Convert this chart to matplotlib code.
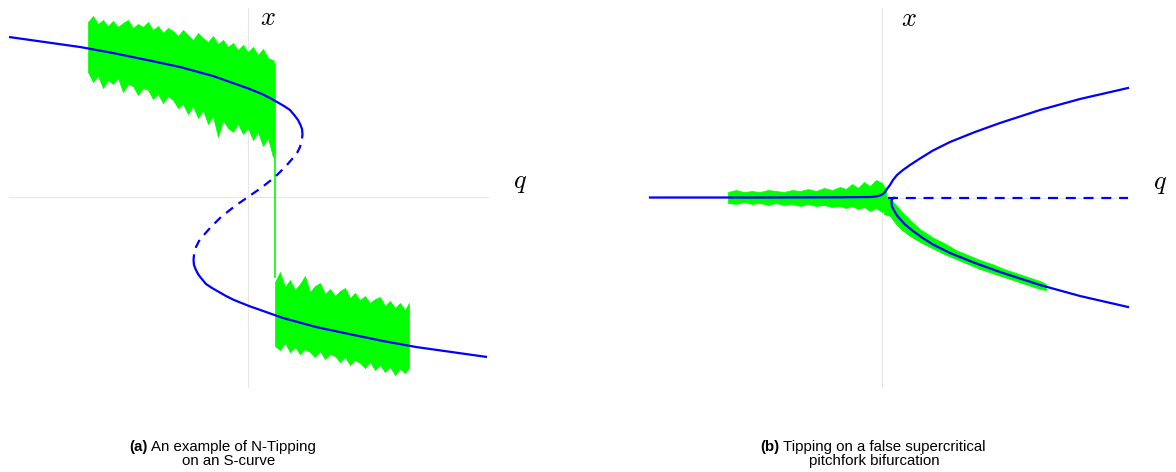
import numpy as np
import matplotlib.pyplot as plt

# ---- (a) S-curve: stable / unstable branches (q, x) ----
s_upper_q = [-2.39, -1.68, -1.35, -1.01, -0.68, -0.35, -0.01, 0.14, 0.22, 0.29, 0.36, 0.42, 0.47, 0.50, 0.525, 0.54, 0.545]
s_upper_x = [1.60, 1.50, 1.44, 1.37, 1.30, 1.21, 1.09, 1.03, 0.99, 0.95, 0.91, 0.87, 0.81, 0.77, 0.72, 0.68, 0.63]
s_lower_q = [2.39, 1.68, 1.35, 1.01, 0.68, 0.35, 0.01, -0.14, -0.22, -0.29, -0.36, -0.42, -0.47, -0.50, -0.525, -0.54, -0.545]
s_lower_x = [-1.60, -1.50, -1.44, -1.37, -1.30, -1.21, -1.09, -1.03, -0.99, -0.95, -0.91, -0.87, -0.81, -0.77, -0.72, -0.68, -0.63]
s_mid_q = [0.545, 0.54, 0.52, 0.49, 0.45, 0.38, 0.27, 0.13, 0.0, -0.13, -0.27, -0.38, -0.45, -0.49, -0.52, -0.54, -0.545]
s_mid_x = [0.63, 0.58, 0.50, 0.44, 0.39, 0.31, 0.20, 0.09, 0.0, -0.09, -0.20, -0.31, -0.39, -0.44, -0.50, -0.58, -0.63]

# noisy trajectory envelope, before the jump
a_pre_q = [-1.60, -1.55, -1.50, -1.45, -1.40, -1.35, -1.30, -1.25, -1.20, -1.15, -1.10, -1.05, -1.00,
           -0.95, -0.90, -0.85, -0.80, -0.75, -0.70, -0.65, -0.60, -0.55, -0.50, -0.45, -0.40, -0.35,
           -0.30, -0.25, -0.20, -0.15, -0.10, -0.05, 0.00, 0.05, 0.10, 0.15, 0.20, 0.25, 0.27]
a_pre_top = [1.75, 1.81, 1.73, 1.77, 1.71, 1.76, 1.70, 1.74, 1.77, 1.69, 1.73, 1.70, 1.75,
             1.67, 1.71, 1.64, 1.69, 1.66, 1.61, 1.67, 1.62, 1.57, 1.64, 1.59, 1.55, 1.61,
             1.53, 1.57, 1.50, 1.54, 1.47, 1.52, 1.45, 1.50, 1.42, 1.48, 1.39, 1.37, 1.32]
a_pre_bot = [1.25, 1.15, 1.21, 1.09, 1.17, 1.13, 1.19, 1.05, 1.13, 1.11, 1.02, 1.09, 1.07,
             0.98, 1.03, 0.94, 1.01, 0.97, 0.89, 0.93, 0.83, 0.91, 0.79, 0.87, 0.73, 0.81,
             0.60, 0.77, 0.69, 0.65, 0.73, 0.63, 0.69, 0.57, 0.65, 0.51, 0.59, 0.40, 0.45]
# the jump
a_jump_q = [0.27, 0.27]
a_jump_x = [0.45, -0.80]
# after the jump
a_post_q = [0.27, 0.32, 0.37, 0.42, 0.47, 0.52, 0.57, 0.62, 0.67, 0.72, 0.77, 0.82, 0.87, 0.92,
            0.97, 1.02, 1.07, 1.12, 1.17, 1.22, 1.27, 1.32, 1.37, 1.42, 1.47, 1.52, 1.57, 1.61]
a_post_top = [-0.85, -0.75, -0.90, -0.83, -0.93, -0.87, -0.79, -0.95, -0.89, -0.86, -0.97, -0.92, -0.99, -0.94,
              -0.91, -1.01, -0.96, -1.03, -0.99, -1.06, -1.02, -1.00, -1.09, -1.04, -1.11, -1.06, -1.13, -1.06]
a_post_bot = [-1.49, -1.53, -1.46, -1.55, -1.50, -1.57, -1.52, -1.55, -1.60, -1.54, -1.62, -1.57, -1.59, -1.65,
              -1.60, -1.68, -1.63, -1.66, -1.71, -1.65, -1.73, -1.68, -1.75, -1.70, -1.78, -1.72, -1.76, -1.71]

# ---- (b) false supercritical pitchfork ----
p_upper_q = [-2.32, -1.22, -0.42, -0.12, -0.06, -0.02, 0.01, 0.03, 0.05, 0.08, 0.11, 0.15, 0.21,
             0.28, 0.38, 0.51, 0.68, 0.93, 1.18, 1.58, 1.98, 2.46]
p_upper_x = [0.0, 0.0, 0.002, 0.005, 0.01, 0.02, 0.035, 0.055, 0.085, 0.125, 0.175, 0.225, 0.275,
             0.325, 0.39, 0.47, 0.555, 0.655, 0.745, 0.875, 0.985, 1.095]
p_lower_q = [0.12, 0.105, 0.095, 0.095, 0.10, 0.12, 0.15, 0.18, 0.23, 0.31, 0.40, 0.51, 0.68,
             0.93, 1.18, 1.58, 1.98, 2.46]
p_lower_x = [-0.003, -0.012, -0.03, -0.06, -0.09, -0.13, -0.18, -0.215, -0.27, -0.335, -0.40, -0.47, -0.555,
             -0.655, -0.745, -0.875, -0.985, -1.095]
p_mid_q = [0.06, 2.46]
p_mid_x = [0.0, 0.0]

b_flat_q = [-1.54, -1.46, -1.38, -1.30, -1.22, -1.14, -1.06, -0.98, -0.90, -0.82, -0.74, -0.66,
            -0.58, -0.50, -0.42, -0.36, -0.30, -0.24, -0.18, -0.12, -0.06, 0.0, 0.04]
b_flat_top = [0.055, 0.075, 0.055, 0.065, 0.055, 0.075, 0.065, 0.055, 0.075, 0.065, 0.085, 0.065,
              0.095, 0.075, 0.105, 0.085, 0.135, 0.095, 0.155, 0.115, 0.175, 0.145, 0.075]
b_flat_bot = [-0.055, -0.065, -0.045, -0.065, -0.055, -0.075, -0.055, -0.075, -0.065, -0.085, -0.065, -0.085,
              -0.075, -0.095, -0.085, -0.105, -0.085, -0.115, -0.095, -0.135, -0.105, -0.145, -0.105]
b_branch_q = [0.02, 0.08, 0.14, 0.20, 0.28, 0.38, 0.50, 0.62, 0.74, 0.86, 0.98, 1.10, 1.22, 1.34, 1.46, 1.58, 1.64]
b_branch_top = [0.015, -0.005, -0.075, -0.145, -0.225, -0.315, -0.395, -0.455, -0.525, -0.575, -0.625,
                -0.665, -0.715, -0.755, -0.795, -0.835, -0.865]
b_branch_bot = [-0.165, -0.185, -0.265, -0.325, -0.385, -0.445, -0.505, -0.565, -0.615, -0.665, -0.715,
                -0.755, -0.795, -0.835, -0.875, -0.915, -0.925]

BLUE = '#0000ff'
GREEN = '#00ff00'
GRID = '#e6e6e6'
W, H = 1176, 472

plt.rcParams['mathtext.fontset'] = 'cm'
plt.rcParams['font.family'] = ['Liberation Sans', 'DejaVu Sans']

fig = plt.figure(figsize=(W / 100, H / 100), dpi=100)


def px_axes(x0, y0, w, h):
    return fig.add_axes([x0 / W, (H - y0 - h) / H, w / W, h / H])


# ---------- panel (a) ----------
ax1 = px_axes(0, 0, 540, 400)
ax1.set_xlim(-2.48, 2.92)
ax1.set_ylim(-2.03, 1.97)
ax1.set_axis_off()
ax1.plot([0, 0], [-1.90, 1.89], color=GRID, lw=0.8, zorder=1)
ax1.plot([-2.39, 2.40], [0, 0], color=GRID, lw=0.8, zorder=1)

ax1.fill_between(a_pre_q, a_pre_bot, a_pre_top, color=GREEN, lw=0.5, zorder=2)
ax1.plot(a_jump_q, a_jump_x, color=GREEN, lw=1.2, zorder=2)
ax1.fill_between(a_post_q, a_post_bot, a_post_top, color=GREEN, lw=0.5, zorder=2)

ax1.plot(s_upper_q, s_upper_x, color=BLUE, lw=1.6, zorder=3, solid_capstyle='butt')
ax1.plot(s_lower_q, s_lower_x, color=BLUE, lw=1.6, zorder=3, solid_capstyle='butt')
ax1.plot(s_mid_q, s_mid_x, color=BLUE, lw=1.6, ls=(2, (4, 3)), zorder=3)

ax1.text(0.20, 1.79, r'$x$', fontsize=19, ha='center', va='center')
ax1.text(2.72, 0.14, r'$q$', fontsize=19, ha='center', va='center')

# ---------- panel (b) ----------
ax2 = px_axes(630, 0, 546, 400)
ax2.set_xlim(-2.52, 2.94)
ax2.set_ylim(-2.025, 1.975)
ax2.set_axis_off()
ax2.plot([0, 0], [-1.895, 1.895], color=GRID, lw=0.8, zorder=1)
ax2.plot([-2.32, 2.46], [0, 0], color=GRID, lw=0.8, zorder=1)

ax2.fill_between(b_flat_q, b_flat_bot, b_flat_top, color=GREEN, lw=0.5, zorder=2)
ax2.fill_between(b_branch_q, b_branch_bot, b_branch_top, color=GREEN, lw=0.5, zorder=2)

ax2.plot(p_upper_q, p_upper_x, color=BLUE, lw=1.6, zorder=3)
ax2.plot(p_lower_q, p_lower_x, color=BLUE, lw=1.6, zorder=3)
ax2.plot(p_mid_q, p_mid_x, color=BLUE, lw=1.6, ls=(0, (4.5, 3.5)), zorder=3)

ax2.text(0.27, 1.79, r'$x$', fontsize=19, ha='center', va='center')
ax2.text(2.78, 0.14, r'$q$', fontsize=19, ha='center', va='center')

# ---------- captions ----------
renderer = fig.canvas.get_renderer()
FS = 10.8


def caption(x_left, x_center2, tag, line1, line2):
    y1 = (H - 451) / H
    t = fig.text(x_left / W, y1, tag, fontsize=FS, fontweight='bold', ha='left', va='baseline')
    tag_w = t.get_window_extent(renderer).width
    fig.text((x_left + tag_w + 4) / W, y1, line1, fontsize=FS, ha='left', va='baseline')
    fig.text(x_center2 / W, (H - 465) / H, line2, fontsize=FS, ha='center', va='baseline')


caption(129, 229, '(a)', 'An example of N-Tipping', 'on an S-curve')
caption(760, 874, '(b)', 'Tipping on a false supercritical', 'pitchfork bifurcation')

fig.savefig('out.png', dpi=100)
